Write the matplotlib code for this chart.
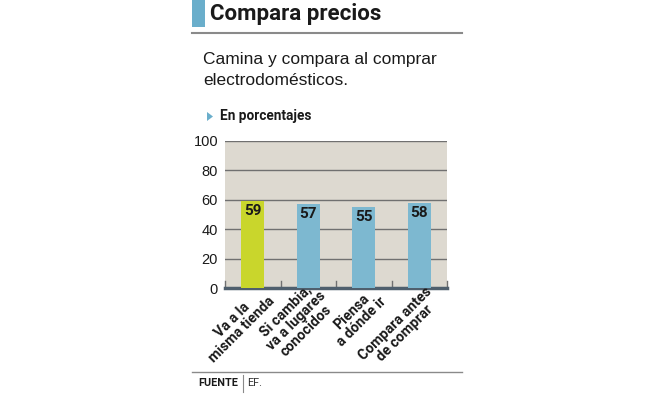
import matplotlib.pyplot as plt
from matplotlib.patches import Rectangle, Polygon
import matplotlib.transforms as mtransforms
import numpy as np

# datos
categorias = ["Va a la\nmisma tienda", "Si cambia,\nva a lugares\nconocidos",
              "Piensa\na dónde ir", "Compara antes\nde comprar"]
valores = [59, 57, 55, 58]
colores = ["#c9d62c", "#7db8d0", "#7db8d0", "#7db8d0"]
ticks_y = [0, 20, 40, 60, 80, 100]

W, H = 653, 398
fig = plt.figure(figsize=(W / 100, H / 100), dpi=100)
fig.patch.set_facecolor("white")

cond = ["Roboto", "DejaVu Sans"]
normal = ["Liberation Sans", "DejaVu Sans"]

def fx(px):
    return px / W

def fy(py):
    return 1 - py / H

# cabecera
fig.add_artist(Rectangle((fx(192), fy(27)), fx(13), 27 / H, transform=fig.transFigure,
                         color="#6aaecb", lw=0))
fig.text(fx(210), fy(14), "Compara precios", fontsize=16, fontweight="bold",
         family=cond, va="center", ha="left", color="#1a1a1a")
fig.add_artist(plt.Line2D([fx(192), fx(462)], [fy(33), fy(33)], color="#8a8a8a", lw=1.5,
                          transform=fig.transFigure))
fig.text(fx(203), fy(70), "Camina y compara al comprar\nelectrodomésticos.", fontsize=12.5,
         family=normal, va="center", ha="left", linespacing=1.45, color="#1a1a1a")

# subtitulo con triangulo
fig.add_artist(Polygon([[fx(207), fy(112)], [fx(207), fy(121)], [fx(213), fy(116.5)]],
                       closed=True, transform=fig.transFigure, color="#6aaecb", lw=0))
fig.text(fx(220), fy(116), "En porcentajes", fontsize=9.8, fontweight="bold",
         family=cond, va="center", ha="left", color="#1a1a1a")

# grafico
ax = fig.add_axes([fx(225), fy(288), fx(447) - fx(225), (288 - 141) / H])
ax.set_facecolor("#ddd9d0")
x = np.arange(len(valores))
ax.bar(x, valores, width=0.42, color=colores, zorder=3)
ax.set_xlim(-0.5, len(valores) - 0.5)
ax.set_ylim(0, 100)
for v in ticks_y[1:]:
    ax.axhline(v, color="#707070", lw=1, zorder=2)
for b in np.arange(-0.5, len(valores), 1):
    ax.plot([b, b], [0, 5], color="#707070", lw=1, zorder=2, clip_on=False)
for i, v in enumerate(valores):
    ax.text(x[i], v - 2, str(v), ha="center", va="top", fontsize=11,
            fontweight="bold", family=cond, color="#1a1a1a", zorder=4)

for s in ["top", "right", "left"]:
    ax.spines[s].set_visible(False)
ax.spines["bottom"].set_color("#4f5f6d")
ax.spines["bottom"].set_linewidth(2.5)
ax.set_yticks(ticks_y)
ax.set_yticklabels([str(t) for t in ticks_y], fontsize=10.5, family=normal, color="#1a1a1a")
ax.tick_params(axis="y", length=0, pad=5)
ax.set_xticks([])

# etiquetas de categoria giradas
trans = mtransforms.blended_transform_factory(ax.transData, ax.transAxes)
desplaz = mtransforms.ScaledTranslation(15 / 100, -6 / 100, fig.dpi_scale_trans)
for i, cat in enumerate(categorias):
    ax.text(x[i], 0, cat, transform=trans + desplaz, rotation=45, rotation_mode="anchor",
            ha="right", va="center", multialignment="center", fontsize=10.2,
            fontweight="bold", family=cond, color="#1a1a1a", linespacing=1.0)

# fuente
fig.add_artist(plt.Line2D([fx(192), fx(462)], [fy(372), fy(372)], color="#8a8a8a", lw=1,
                          transform=fig.transFigure))
fig.add_artist(plt.Line2D([fx(243), fx(243)], [fy(375), fy(392)], color="#8a8a8a", lw=0.8,
                          transform=fig.transFigure))
fig.text(fx(198), fy(383), "FUENTE", fontsize=7.8, fontweight="bold", family=cond,
         va="center", ha="left", color="#1a1a1a")
fig.text(fx(247), fy(383), "EF.", fontsize=7.8, family=cond, va="center", ha="left",
         color="#333333")

fig.savefig("out.png", dpi=100)
